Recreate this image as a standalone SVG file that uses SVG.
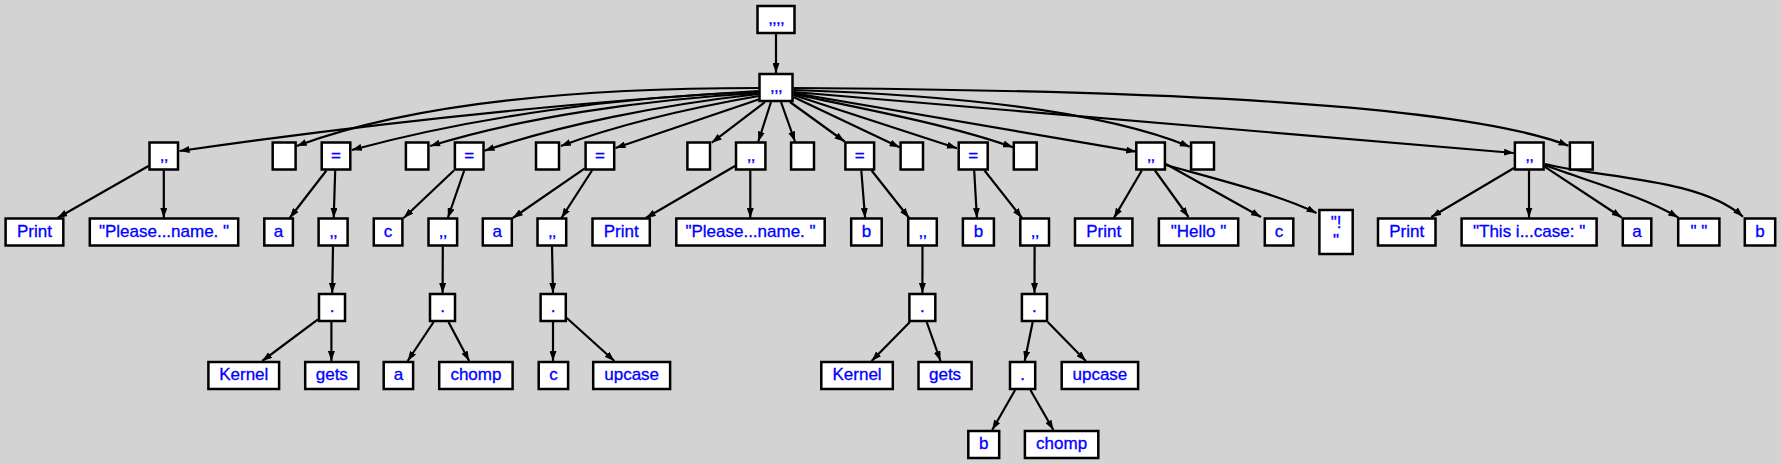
<svg xmlns="http://www.w3.org/2000/svg" width="1781" height="464" viewBox="0 0 1781 464">
<style>
.n rect{fill:#fff;stroke:#000;stroke-width:2.5}
.n text{font-family:"Liberation Sans",Arial,sans-serif;font-size:17px;fill:#00f;stroke:#00f;stroke-width:0.3;text-anchor:middle}
.n text.k{letter-spacing:-0.8px}
.e path{fill:none;stroke:#000;stroke-width:2.2;marker-end:url(#arr)}
</style>
<defs>
<marker id="arr" viewBox="0 0 10 7" refX="10" refY="3.5" markerWidth="10" markerHeight="7" markerUnits="userSpaceOnUse" orient="auto"><path d="M0,0 L10,3.5 L0,7 z" fill="#000"/></marker>
</defs>
<rect x="0" y="0" width="1781" height="464" fill="#d3d3d3"/>
<g class="e" id="edges">
<path d="M776,34 L776,73"/>
<path d="M758.5,91 C560,103 360,125 179.5,151"/>
<path d="M758.5,88 C600,88 420,100 296.7,146"/>
<path d="M758.5,92 C620,96 470,118 351.8,150"/>
<path d="M758.5,93 C640,100 520,118 430.2,146"/>
<path d="M758.5,94 C660,105 560,125 484.5,150.7"/>
<path d="M758.5,96 C690,108 620,124 560.8,146"/>
<path d="M760,99 L615.5,148"/>
<path d="M765,102 L711.8,142.7"/>
<path d="M771,102 L758.3,141.5"/>
<path d="M781,102 L795,141.5"/>
<path d="M790,102 L844.6,141.5"/>
<path d="M793.5,97 L899.5,147.3"/>
<path d="M793.5,95 L957,148.3"/>
<path d="M793.5,94 C870,110 950,125 1013,147.3"/>
<path d="M793.5,93 L1136,151.7"/>
<path d="M793.5,90 C950,95 1100,110 1189.8,146.7"/>
<path d="M793.5,92 L1514,153"/>
<path d="M793.5,88 C1100,90 1450,100 1568.5,145.7"/>
<path d="M148.5,166 L57.4,218"/>
<path d="M163.8,170.5 L163.8,218"/>
<path d="M326.4,170.5 L289.7,218"/>
<path d="M335.2,170.5 L333.7,218"/>
<path d="M453.9,170.5 L403.7,218"/>
<path d="M464.2,170.5 L447.8,218"/>
<path d="M584.8,168.3 L512.8,218"/>
<path d="M592,170.5 L561.4,218"/>
<path d="M735,166 L645.8,218"/>
<path d="M750.3,170.5 L750.3,218"/>
<path d="M861.3,170.5 L865.1,218"/>
<path d="M871.6,170.5 L909.1,218"/>
<path d="M974.2,170.5 L976.9,218"/>
<path d="M984.5,170.5 L1022,218"/>
<path d="M1141.8,170.5 L1113.9,218"/>
<path d="M1155,170.5 L1188.5,217"/>
<path d="M1165.9,164 L1261,217"/>
<path d="M1165.9,165 C1220,180 1280,195 1316.5,213"/>
<path d="M1514,168 L1431.3,217"/>
<path d="M1529,170.5 L1529,217.5"/>
<path d="M1544.6,166.7 L1621.7,217.5"/>
<path d="M1544.6,165 C1590,182 1640,195 1678.3,217.5"/>
<path d="M1545,164 C1600,178 1700,178 1743,216.7"/>
<path d="M333,246.5 L332.2,293"/>
<path d="M442.8,246.5 L442.6,293"/>
<path d="M552,246.5 L553,293"/>
<path d="M922.5,246.5 L922.4,293"/>
<path d="M1034.6,246.5 L1034.5,293"/>
<path d="M318,319.3 L262.2,361"/>
<path d="M331.4,322 L331.4,361"/>
<path d="M433.6,322 L407.6,361"/>
<path d="M448.5,322 L469.2,361"/>
<path d="M553,322 L553,361"/>
<path d="M566.8,318 L614.4,361"/>
<path d="M909.9,322 L871.6,361"/>
<path d="M926.7,322 L940.5,361"/>
<path d="M1032.7,322 L1024.7,361"/>
<path d="M1047.7,322 L1085.9,361"/>
<path d="M1015.1,390 L992.2,430"/>
<path d="M1030.4,390 L1053.4,430"/>
</g>
<g class="n" id="root"><rect x="757.5" y="6" width="37" height="27"/><text class="k" x="776" y="24">,,,,</text></g>
<g class="n" id="n0"><rect x="759.5" y="74" width="33" height="27"/><text class="k" x="776" y="92">,,,</text></g>
<g class="n" id="l1a"><rect x="149.5" y="142.5" width="28.5" height="27"/><text class="k" x="163.75" y="160.5">,,</text></g>
<g class="n" id="l1e1"><rect x="272.7" y="142.5" width="22.9" height="27"/></g>
<g class="n" id="l1q3"><rect x="321.7" y="142.5" width="28.6" height="27"/><text x="336" y="160.5">=</text></g>
<g class="n" id="l1e2"><rect x="405.9" y="142.5" width="22.5" height="27"/></g>
<g class="n" id="l1q5"><rect x="454.9" y="142.5" width="28.6" height="27"/><text x="469.2" y="160.5">=</text></g>
<g class="n" id="l1e3"><rect x="536" y="142.5" width="23" height="27"/></g>
<g class="n" id="l1q7"><rect x="585.6" y="142.5" width="28.6" height="27"/><text x="599.9" y="160.5">=</text></g>
<g class="n" id="l1e4"><rect x="687.4" y="142.5" width="22.6" height="27"/></g>
<g class="n" id="l1c9"><rect x="736" y="142.5" width="29.4" height="27"/><text class="k" x="750.7" y="160.5">,,</text></g>
<g class="n" id="l1e5"><rect x="791.1" y="142.5" width="22.9" height="27"/></g>
<g class="n" id="l1q11"><rect x="845.4" y="142.5" width="28.7" height="27"/><text x="859.75" y="160.5">=</text></g>
<g class="n" id="l1e6"><rect x="900.6" y="142.5" width="22.4" height="27"/></g>
<g class="n" id="l1q13"><rect x="958.7" y="142.5" width="29" height="27"/><text x="973.2" y="160.5">=</text></g>
<g class="n" id="l1e7"><rect x="1013.8" y="142.5" width="22.9" height="27"/></g>
<g class="n" id="l1c15"><rect x="1136.3" y="142.5" width="28.6" height="27"/><text class="k" x="1150.6" y="160.5">,,</text></g>
<g class="n" id="l1e8"><rect x="1191.1" y="142.5" width="22.9" height="27"/></g>
<g class="n" id="l1c17"><rect x="1514.9" y="142.5" width="28.7" height="27"/><text class="k" x="1529.25" y="160.5">,,</text></g>
<g class="n" id="l1e9"><rect x="1569.9" y="142.5" width="22.8" height="27"/></g>
<g class="n" id="print1"><rect x="5.6" y="218.5" width="57.7" height="27"/><text x="34.45" y="236.5">Print</text></g>
<g class="n" id="please1"><rect x="89.8" y="218.5" width="148.4" height="27"/><text x="164" y="236.5">"Please...name. "</text></g>
<g class="n" id="a1"><rect x="264.3" y="218.5" width="28.6" height="27"/><text x="278.6" y="236.5">a</text></g>
<g class="n" id="k2a"><rect x="318.6" y="218.5" width="29" height="27"/><text class="k" x="333.1" y="236.5">,,</text></g>
<g class="n" id="c1"><rect x="373.8" y="218.5" width="28.6" height="27"/><text x="388.1" y="236.5">c</text></g>
<g class="n" id="k2b"><rect x="428.5" y="218.5" width="28.6" height="27"/><text class="k" x="442.8" y="236.5">,,</text></g>
<g class="n" id="a2"><rect x="482.8" y="218.5" width="29" height="27"/><text x="497.3" y="236.5">a</text></g>
<g class="n" id="k2c"><rect x="537.5" y="218.5" width="28.7" height="27"/><text class="k" x="551.85" y="236.5">,,</text></g>
<g class="n" id="print2"><rect x="592.5" y="218.5" width="57.3" height="27"/><text x="621.15" y="236.5">Print</text></g>
<g class="n" id="please2"><rect x="676.3" y="218.5" width="148.4" height="27"/><text x="750.5" y="236.5">"Please...name. "</text></g>
<g class="n" id="b1"><rect x="851.2" y="218.5" width="30.5" height="27"/><text x="866.45" y="236.5">b</text></g>
<g class="n" id="k2d"><rect x="908.2" y="218.5" width="28.6" height="27"/><text class="k" x="922.5" y="236.5">,,</text></g>
<g class="n" id="b2"><rect x="962.9" y="218.5" width="31" height="27"/><text x="978.4" y="236.5">b</text></g>
<g class="n" id="k2e"><rect x="1020.3" y="218.5" width="28.7" height="27"/><text class="k" x="1034.65" y="236.5">,,</text></g>
<g class="n" id="print3"><rect x="1075" y="218.5" width="57.4" height="27"/><text x="1103.7" y="236.5">Print</text></g>
<g class="n" id="hello"><rect x="1158.9" y="218.5" width="79.3" height="27"/><text x="1198.55" y="236.5">"Hello "</text></g>
<g class="n" id="c3"><rect x="1264.8" y="218.5" width="28.5" height="27"/><text x="1279.05" y="236.5">c</text></g>
<g class="n" id="excl"><rect x="1319.4" y="210" width="33.3" height="44"/><text x="1336.05" y="227.5">"!</text><text x="1336.05" y="245.5">"</text></g>
<g class="n" id="print4"><rect x="1378" y="218.5" width="57.5" height="27"/><text x="1406.75" y="236.5">Print</text></g>
<g class="n" id="this"><rect x="1461.6" y="218.5" width="135" height="27"/><text x="1529.1" y="236.5">"This i...case: "</text></g>
<g class="n" id="a3"><rect x="1622.8" y="218.5" width="28.5" height="27"/><text x="1637.05" y="236.5">a</text></g>
<g class="n" id="sp"><rect x="1678.2" y="218.5" width="41.2" height="27"/><text x="1698.8" y="236.5">" "</text></g>
<g class="n" id="b3"><rect x="1744.8" y="218.5" width="30.4" height="27"/><text x="1760" y="236.5">b</text></g>
<g class="n" id="d1"><rect x="319" y="294" width="26" height="27"/><text x="332" y="312">.</text></g>
<g class="n" id="d2"><rect x="430" y="294" width="25" height="27"/><text x="442.5" y="312">.</text></g>
<g class="n" id="d3"><rect x="540.6" y="294" width="25.2" height="27"/><text x="553.2" y="312">.</text></g>
<g class="n" id="d4"><rect x="909.4" y="294" width="25.9" height="27"/><text x="922.35" y="312">.</text></g>
<g class="n" id="d5"><rect x="1021.9" y="294" width="25.1" height="27"/><text x="1034.45" y="312">.</text></g>
<g class="n" id="kernel1"><rect x="208.4" y="362" width="70.7" height="27"/><text x="243.75" y="380">Kernel</text></g>
<g class="n" id="gets1"><rect x="305.2" y="362" width="53.2" height="27"/><text x="331.8" y="380">gets</text></g>
<g class="n" id="a4"><rect x="383.7" y="362" width="29.4" height="27"/><text x="398.4" y="380">a</text></g>
<g class="n" id="chomp1"><rect x="439.2" y="362" width="73.4" height="27"/><text x="475.9" y="380">chomp</text></g>
<g class="n" id="c4"><rect x="538.7" y="362" width="29.4" height="27"/><text x="553.4" y="380">c</text></g>
<g class="n" id="upcase1"><rect x="593.2" y="362" width="76.9" height="27"/><text x="631.65" y="380">upcase</text></g>
<g class="n" id="kernel2"><rect x="821.3" y="362" width="71.5" height="27"/><text x="857.05" y="380">Kernel</text></g>
<g class="n" id="gets2"><rect x="918.5" y="362" width="53.1" height="27"/><text x="945.05" y="380">gets</text></g>
<g class="n" id="d6"><rect x="1010" y="362" width="25.2" height="27"/><text x="1022.6" y="380">.</text></g>
<g class="n" id="upcase2"><rect x="1061.7" y="362" width="76.4" height="27"/><text x="1099.9" y="380">upcase</text></g>
<g class="n" id="b4"><rect x="968.3" y="431" width="30.9" height="27"/><text x="983.75" y="449">b</text></g>
<g class="n" id="chomp2"><rect x="1024.9" y="431" width="73.4" height="27"/><text x="1061.6" y="449">chomp</text></g>
</svg>
